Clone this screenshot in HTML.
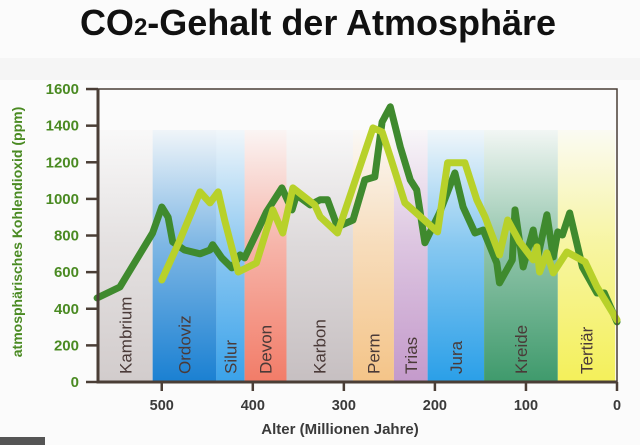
<!DOCTYPE html>
<html><head><meta charset="utf-8"><style>
body{margin:0;background:#fff;}
svg{display:block;font-family:"Liberation Sans",sans-serif;}
</style></head><body>
<svg id="chart" width="640" height="445" viewBox="0 0 640 445">
<defs></defs>
<rect x="0" y="0" width="640" height="445" fill="#fbfbfb"/>
<rect x="0" y="58" width="640" height="22" fill="#f5f5f5"/>
<text x="318" y="35" text-anchor="middle" font-size="36" font-weight="bold" fill="#111">CO<tspan font-size="24">2</tspan>-Gehalt der Atmosphäre</text>
<g id="bands"></g>
<g id="lines"></g>
<g id="axes"></g>
<text transform="translate(22,232) rotate(-90)" text-anchor="middle" font-size="14" font-weight="bold" fill="#4a8a22">atmosphärisches Kohlendioxid (ppm)</text>
<text x="340" y="434" text-anchor="middle" font-size="15" font-weight="bold" fill="#3a3a3a">Alter (Millionen Jahre)</text>
<rect x="0" y="437" width="45" height="8" fill="#555"/>
</svg>
<script>
const periodNames=["Kambrium","Ordoviz","Silur","Devon","Karbon","Perm","Trias","Jura","Kreide","Tertiär"];
const periodStart=[570,510,440,409,363,290,245,208,146,65];
const periodEnd=[510,440,409,363,290,245,208,146,65,2];
const periodColors=["#d2cccc","#1a80d2","#3aa2ea","#f27c68","#c6bfc1","#f4c488","#c49acb","#2a9fe8","#3f9a6c","#f4f05a"];
const xTicks=[500,400,300,200,100,0];
const yTicks=[0,200,400,600,800,1000,1200,1400,1600];
const darkAge=[571,546,510,500,493,488,475,458,447,444,434,423,414,409,398,385,368,357,352,337,326,318,307,290,277,266,258,249,238,227,220,211,195,178,169,156,147,132,129,115,112,103,92,87,77,70,65,60,52,38,22,14,0];
const darkPpm=[459,519,814,956,900,765,721,700,721,750,678,623,694,678,792,929,1060,940,1022,967,995,995,847,885,1104,1120,1420,1503,1284,1104,1049,760,923,1142,956,814,830,650,541,667,940,628,830,683,913,683,820,803,923,628,486,486,328];
const lightAge=[500,480,458,447,438,431,416,396,378,367,356,332,326,307,268,258,249,233,197,186,167,154,145,129,120,107,92,88,85,77,70,55,35,22,0];
const lightPpm=[557,776,1038,978,1038,885,601,650,940,814,1060,967,902,814,1388,1366,1230,978,820,1197,1197,995,902,694,885,765,667,738,601,705,596,710,656,519,339];
const NS="http://www.w3.org/2000/svg";
const X=a=>617-(a)*0.9105;
const Y=v=>382-v*0.1831;
function mk(t,at,parent){const e=document.createElementNS(NS,t);for(const k in at)e.setAttribute(k,at[k]);parent.appendChild(e);return e;}
const defs=document.querySelector('defs'),bands=document.getElementById('bands'),lines=document.getElementById('lines'),axes=document.getElementById('axes');
periodNames.forEach((n,i)=>{
 const g=mk('linearGradient',{id:'g'+i,x1:0,y1:1,x2:0,y2:0},defs);
 mk('stop',{offset:0,'stop-color':periodColors[i],'stop-opacity':1},g);
 mk('stop',{offset:0.55,'stop-color':periodColors[i],'stop-opacity':0.55},g);
 mk('stop',{offset:1,'stop-color':periodColors[i],'stop-opacity':0.05},g);
 const x1=X(periodStart[i]),x2=X(periodEnd[i]);
 const r=mk('rect',{x:Math.max(x1,98),y:130,width:x2-Math.max(x1,98),height:252,fill:'url(#g'+i+')'},bands);
 
 
 const cx=(Math.max(x1,98)+x2)/2+6;
 const t=mk('text',{transform:`translate(${cx},374) rotate(-90)`,'font-size':17,fill:'#4a3a38'},bands);
 t.textContent=n;
 
 
});
function line(ages,vals,color,name){
 const p=mk('polyline',{points:ages.map((a,i)=>X(a).toFixed(1)+','+Y(vals[i]).toFixed(1)).join(' '),fill:'none',stroke:color,'stroke-width':7,'stroke-linejoin':'round','stroke-linecap':'round'},lines);
 
 
}
line(darkAge,darkPpm,'#3f8a2e','co2-line-dark');
line(lightAge,lightPpm,'#b8d12a','co2-line-light');
const frame=mk('path',{d:'M98,89 L617,89 L617,382',fill:'none',stroke:'#4a3e36','stroke-width':1.5},axes);


const ax=mk('path',{d:'M98,89 L98,382 L617,382',fill:'none',stroke:'#4a3e36','stroke-width':3},axes);


yTicks.forEach(v=>{
 const y=Y(v);
 const tk=mk('line',{x1:86,x2:98,y1:y,y2:y,stroke:'#4a3e36','stroke-width':2.5},axes);
 
 
 const t=mk('text',{x:79,y:y+5,'text-anchor':'end','font-size':15,'font-weight':'bold',fill:'#4a8a22'},axes);
 t.textContent=v;
 
 
});
xTicks.forEach(a=>{
 const x=X(a);
 const tk=mk('line',{x1:x,x2:x,y1:382,y2:391,stroke:'#4a3e36','stroke-width':2.5},axes);
 
 
 const t=mk('text',{x:x,y:410,'text-anchor':'middle','font-size':14.5,'font-weight':'bold',fill:'#3a3a3a'},axes);
 t.textContent=a;
 
 
});
</script>
</body></html>
